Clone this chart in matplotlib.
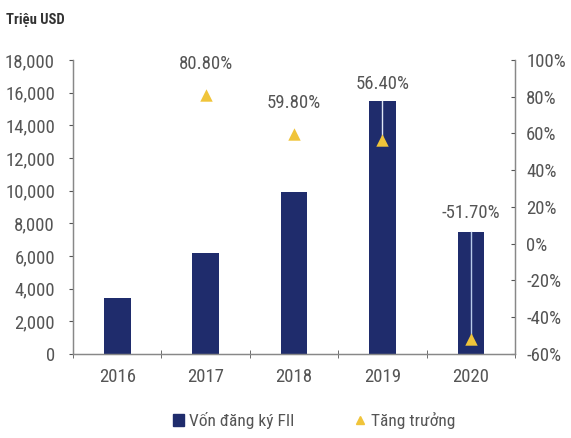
import matplotlib.pyplot as plt
from matplotlib import font_manager
from matplotlib.ticker import FuncFormatter, MultipleLocator
from matplotlib.lines import Line2D
from matplotlib.patches import Patch

years = ['2016', '2017', '2018', '2019', '2020']
fii_capital = [3400, 6200, 9900, 15500, 7450]
growth = [None, 80.8, 59.8, 56.4, -51.7]
growth_labels = ['', '80.80%', '59.80%', '56.40%', '-51.70%']

# label offsets in points above the marker
label_offset = [0, 16, 16, 34, 84]

navy = '#1f2c6c'
gold = '#f0c43a'
grey = '#555555'

names = {f.name for f in font_manager.fontManager.ttflist}
narrow = [n for n in ('Liberation Sans Narrow', 'DejaVu Sans Condensed',
                      'Roboto Condensed', 'Open Sans Condensed') if n in names]
if narrow:
    plt.rcParams['font.family'] = [narrow[0], 'DejaVu Sans']
    fs = 13.5
else:
    plt.rcParams['font.family'] = ['Liberation Sans', 'DejaVu Sans']
    fs = 11.5

fig = plt.figure(figsize=(5.71, 4.38), dpi=100)
ax = fig.add_axes([0.128, 0.192, 0.774, 0.671])
ax2 = ax.twinx()

x = list(range(len(years)))
ax.bar(x, fii_capital, width=0.3, color=navy, zorder=2)
ax.set_xlim(-0.5, len(years) - 0.5)
ax.set_ylim(0, 18000)
ax.yaxis.set_major_locator(MultipleLocator(2000))
ax.yaxis.set_major_formatter(FuncFormatter(lambda v, p: f'{v:,.0f}'))
ax.set_xticks(x)
ax.set_xticklabels(years)
ax.set_xticks([i - 0.5 for i in range(len(years) + 1)], minor=True)
ax.tick_params(axis='x', which='major', length=0, pad=10, labelsize=fs, colors=grey)
ax.tick_params(axis='x', which='minor', length=6, direction='inout', color=grey)
ax.tick_params(axis='y', length=3, direction='out', labelsize=fs, colors=grey, pad=10)

ax2.set_ylim(-60, 100)
ax2.yaxis.set_major_locator(MultipleLocator(20))
ax2.yaxis.set_major_formatter(FuncFormatter(lambda v, p: f'{v:.0f}%'))
ax2.tick_params(axis='y', length=3, direction='in', labelsize=fs, colors=grey, pad=8)

for a in (ax, ax2):
    a.spines['top'].set_visible(False)
    for s in ('left', 'right', 'bottom'):
        a.spines[s].set_color('#888888')
        a.spines[s].set_linewidth(0.9)

gx = [i for i, g in enumerate(growth) if g is not None]
gy = [g for g in growth if g is not None]

# leader lines from bar top down to growth marker (2019, 2020)
for i, c in ((3, '#dfe6f5'), (4, '#b9cbea')):
    top = fii_capital[i] / 18000 * 160 - 60
    ax2.plot([x[i], x[i]], [top, growth[i]], color=c, lw=1.0, zorder=3)

ax2.scatter(gx, gy, marker='^', s=80, color=gold, zorder=4, linewidths=0)

for i in gx:
    ax2.annotate(growth_labels[i], (x[i], growth[i]), xytext=(0, label_offset[i]),
                 textcoords='offset points', ha='center', va='bottom',
                 fontsize=fs, color=grey)

fig.text(0.01, 0.955, 'Triệu USD', fontsize=10.5, fontweight='bold', color='#333333',
         ha='left', va='center')

handles = [Patch(color=navy, label='Vốn đăng ký FII'),
           Line2D([], [], marker='^', color=gold, linestyle='none', markersize=6,
                  label='Tăng trưởng')]
fig.legend(handles=handles, loc='center', bbox_to_anchor=(0.55, 0.04), ncol=2,
           frameon=False, fontsize=fs - 1, handlelength=0.6, handletextpad=0.3,
           columnspacing=3.5, labelcolor=grey)

fig.savefig('out.png', dpi=100)
